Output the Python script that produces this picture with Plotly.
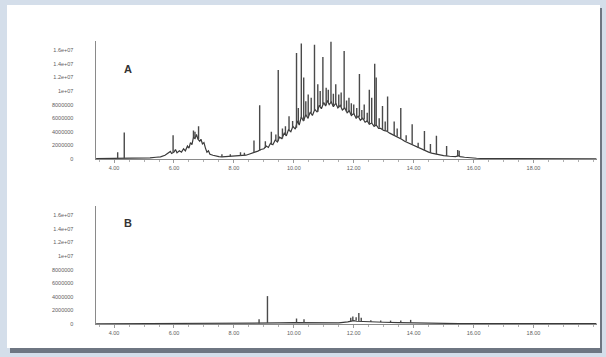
import numpy as np
import plotly.graph_objects as go

# ---------------- data (intensity in millions of counts) ----------------
a_base_time = [3.40, 3.80, 4.00, 4.10, 4.20, 4.30, 4.50, 4.80, 5.00, 5.20, 5.40, 5.55, 5.70, 5.80,
               5.88, 5.92, 6.00, 6.05, 6.10, 6.18, 6.25, 6.32, 6.38, 6.45, 6.50, 6.55, 6.60, 6.65,
               6.70, 6.75, 6.80, 6.86, 6.90, 6.95, 7.00, 7.05, 7.10, 7.15, 7.20, 7.30, 7.40, 7.50,
               7.60, 7.75, 7.90, 8.00, 8.10, 8.20, 8.30, 8.40, 8.50, 8.60, 8.70, 8.80, 8.90, 9.00,
               9.08, 9.15, 9.22, 9.30, 9.38, 9.45, 9.52, 9.60, 9.68, 9.75, 9.82, 9.90, 9.97, 10.05,
               10.12, 10.18, 10.25, 10.32, 10.40, 10.47, 10.55, 10.62, 10.70, 10.78, 10.85, 10.92,
               11.00, 11.06, 11.12, 11.18, 11.25, 11.32, 11.40, 11.47, 11.55, 11.62, 11.70, 11.78,
               11.85, 11.92, 12.00, 12.08, 12.15, 12.22, 12.30, 12.38, 12.45, 12.52, 12.60, 12.68,
               12.75, 12.83, 12.90, 13.00, 13.10, 13.20, 13.30, 13.40, 13.50, 13.60, 13.70, 13.80,
               13.90, 14.00, 14.10, 14.20, 14.30, 14.40, 14.50, 14.60, 14.70, 14.80, 14.90, 15.00,
               15.20, 15.40, 15.50, 15.55, 15.70, 15.90, 16.10, 16.40, 17.00, 18.00, 20.10]
a_base_tic_m = [0.05, 0.06, 0.08, 0.10, 0.12, 0.10, 0.08, 0.07, 0.10, 0.15, 0.25, 0.30, 0.55, 0.90,
                1.10, 0.80, 1.00, 1.40, 0.90, 1.20, 1.00, 1.50, 1.20, 1.90, 1.60, 2.40, 2.10, 3.20,
                3.00, 3.60, 2.90, 2.60, 2.90, 2.20, 2.40, 1.60, 1.00, 1.20, 0.70, 0.55, 0.40, 0.35,
                0.30, 0.35, 0.30, 0.35, 0.40, 0.45, 0.50, 0.55, 0.70, 0.80, 1.00, 1.15, 1.40, 1.50,
                1.90, 1.70, 2.30, 2.10, 2.80, 2.50, 3.20, 3.00, 3.80, 3.40, 4.30, 4.00, 4.80, 4.40,
                5.60, 5.00, 6.20, 5.60, 6.50, 6.00, 6.90, 6.40, 7.30, 6.90, 7.90, 7.40,
                8.30, 7.80, 8.60, 8.00, 8.40, 7.70, 8.20, 7.50, 7.90, 7.20, 7.50, 6.80,
                7.10, 6.40, 6.70, 6.00, 6.30, 5.70, 6.00, 5.40, 5.60, 5.10, 5.30, 4.80,
                5.00, 4.50, 4.50, 4.20, 4.10, 3.80, 3.60, 3.40, 3.10, 2.90, 2.60, 2.40,
                2.10, 1.90, 1.70, 1.50, 1.30, 1.15, 1.00, 0.85, 0.75, 0.65, 0.55, 0.50,
                0.40, 0.35, 0.50, 0.35, 0.25, 0.15, 0.10, 0.06, 0.04, 0.03, 0.03]

a_peak_time = [4.12, 4.34, 5.97, 6.65, 6.70, 6.82, 7.60, 7.88, 8.22, 8.35, 8.67, 8.86, 9.05, 9.25,
               9.40, 9.48, 9.62, 9.72, 9.84, 9.96, 10.09, 10.15, 10.25, 10.33, 10.40, 10.48, 10.58,
               10.69, 10.80, 10.88, 10.97, 11.08, 11.15, 11.24, 11.32, 11.40, 11.50, 11.58, 11.68,
               11.76, 11.84, 11.92, 12.00, 12.10, 12.19, 12.27, 12.35, 12.45, 12.52, 12.60, 12.70,
               12.75, 12.85, 12.96, 13.05, 13.13, 13.35, 13.45, 13.57, 13.75, 13.95, 14.15, 14.36,
               14.56, 14.76, 15.10, 15.47, 15.52]
a_peak_base_m = [0.10, 0.10, 0.90, 3.20, 3.00, 2.90, 0.30, 0.30, 0.45, 0.50, 0.90, 1.20, 1.60, 2.10,
                 2.80, 2.60, 3.00, 3.60, 4.20, 4.60, 4.60, 5.30, 6.00, 5.60, 6.40, 6.00, 6.80,
                 7.20, 6.90, 7.80, 8.00, 7.90, 8.40, 8.30, 7.80, 8.10, 7.60, 7.70, 7.40,
                 6.90, 7.00, 6.50, 6.60, 6.10, 6.20, 5.80, 5.80, 5.50, 5.10, 5.30, 4.90,
                 5.00, 4.60, 4.40, 4.20, 4.10, 3.50, 3.30, 3.00, 2.60, 2.10, 1.60, 1.25,
                 0.90, 0.70, 0.45, 0.40, 0.40]
a_peak_top_m = [1.0, 3.9, 3.5, 4.2, 4.0, 4.8, 0.7, 0.7, 1.0, 0.9, 2.7, 7.9, 2.6, 4.0,
                3.6, 13.1, 4.5, 4.8, 6.3, 5.6, 15.6, 7.5, 17.0, 12.0, 8.5, 9.5, 9.0,
                16.8, 11.0, 10.0, 15.0, 10.5, 10.2, 17.3, 9.6, 11.0, 9.5, 9.8, 15.9,
                8.6, 9.0, 8.2, 8.0, 7.5, 12.5, 7.2, 8.0, 6.8, 10.2, 9.0, 14.0,
                12.0, 6.0, 7.8, 5.5, 9.2, 5.5, 4.5, 7.5, 3.5, 5.1, 2.4, 4.1,
                2.2, 3.4, 1.9, 1.3, 1.2]

b_base_time = [3.40, 8.50, 8.80, 9.00, 9.50, 10.00, 10.50, 11.00, 11.50, 11.80, 12.00, 12.10,
               12.30, 12.50, 13.00, 13.50, 14.00, 14.50, 15.50, 20.10]
b_base_tic_m = [0.03, 0.04, 0.10, 0.15, 0.15, 0.20, 0.15, 0.12, 0.15, 0.30, 0.50, 0.40,
                0.35, 0.30, 0.25, 0.20, 0.15, 0.08, 0.05, 0.04]

b_peak_time = [8.84, 9.12, 10.09, 10.34, 11.90, 11.97, 12.08, 12.17, 12.25, 12.57, 12.90, 13.23,
               13.57, 13.90]
b_peak_base_m = [0.08, 0.15, 0.20, 0.18, 0.40, 0.45, 0.50, 0.45, 0.40, 0.30, 0.27, 0.22, 0.20, 0.16]
b_peak_top_m = [0.7, 4.1, 0.8, 0.7, 0.9, 1.1, 1.0, 1.6, 0.9, 0.55, 0.5, 0.5, 0.5, 0.6]

x_tick_vals = [4, 6, 8, 10, 12, 14, 16, 18]
x_tick_text = ["4.00", "6.00", "8.00", "10.00", "12.00", "14.00", "16.00", "18.00"]
y_tick_vals = [0, 2e6, 4e6, 6e6, 8e6, 1e7, 1.2e7, 1.4e7, 1.6e7]
y_tick_text = ["0", "2000000", "4000000", "6000000", "8000000", "1e+07", "1.2e+07", "1.4e+07", "1.6e+07"]
panel_labels = ["A", "B"]

M = 1e6
LINE = "#3a3a3a"


def spikes(times, base, top):
    xs, ys = [], []
    for t, b, p in zip(times, base, top):
        xs += [t, t, None]
        ys += [b * M, p * M, None]
    return xs, ys


fig = go.Figure()

panels = [
    (a_base_time, a_base_tic_m, a_peak_time, a_peak_base_m, a_peak_top_m, "x", "y"),
    (b_base_time, b_base_tic_m, b_peak_time, b_peak_base_m, b_peak_top_m, "x2", "y2"),
]
for bt, by, pt, pb, ptop, xa, ya in panels:
    fig.add_trace(go.Scatter(x=bt, y=np.array(by) * M, mode="lines", xaxis=xa, yaxis=ya,
                             line=dict(color=LINE, width=1.2), showlegend=False, hoverinfo="skip"))
    sx, sy = spikes(pt, pb, ptop)
    fig.add_trace(go.Scatter(x=sx, y=sy, mode="lines", xaxis=xa, yaxis=ya,
                             line=dict(color="#4a4a4a", width=1.4), showlegend=False, hoverinfo="skip"))

W, H = 606, 357
x_dom = [95.5 / W, 597 / W]
ya_dom = [1 - 160.3 / H, 1 - 41.8 / H]
yb_dom = [1 - 326.7 / H, 1 - 208.2 / H]

tickfont = dict(family="Liberation Sans, Arial, sans-serif", size=5.5, color="#5e5e5e")

xaxis_common = dict(range=[3.38, 20.12], tickvals=x_tick_vals, ticktext=x_tick_text,
                    showgrid=False, zeroline=False, showline=True, linecolor="#8a8a8a",
                    linewidth=1, ticks="outside", ticklen=3, tickcolor="#9a9a9a",
                    minor=dict(ticks="outside", ticklen=2, dtick=0.5, tickcolor="#b0b0b0"),
                    tickfont=tickfont, domain=x_dom)
yaxis_common = dict(range=[0, 17.3e6], tickvals=y_tick_vals, ticktext=y_tick_text,
                    showgrid=False, zeroline=False, showline=True, linecolor="#8a8a8a",
                    linewidth=1, ticks="", tickfont=tickfont, ticklabelstandoff=20)

fig.update_layout(
    width=W, height=H,
    margin=dict(l=0, r=0, t=0, b=0),
    paper_bgcolor="#d4deea",
    plot_bgcolor="rgba(0,0,0,0)",
    xaxis=dict(xaxis_common, anchor="y"),
    yaxis=dict(yaxis_common, domain=ya_dom, anchor="x"),
    xaxis2=dict(xaxis_common, anchor="y2"),
    yaxis2=dict(yaxis_common, domain=yb_dom, anchor="x2"),
    shapes=[
        dict(type="rect", xref="paper", yref="paper", x0=10 / W, x1=602 / W,
             y0=1 - 356 / H, y1=1 - 8 / H, fillcolor="#6e7682", line=dict(width=0), layer="below"),
        dict(type="rect", xref="paper", yref="paper", x0=7 / W, x1=600 / W,
             y0=1 - 351 / H, y1=1 - 5 / H, fillcolor="white", line=dict(width=0), layer="below"),
    ],
    annotations=[
        dict(text="<b>%s</b>" % panel_labels[0], xref="paper", yref="paper", x=122 / W, y=1 - 62 / H,
             showarrow=False, font=dict(family="Liberation Sans, Arial, sans-serif", size=11, color="#333")),
        dict(text="<b>%s</b>" % panel_labels[1], xref="paper", yref="paper", x=122 / W, y=1 - 225 / H,
             showarrow=False, font=dict(family="Liberation Sans, Arial, sans-serif", size=11, color="#333")),
    ],
)

fig.write_html("out.html", config={"displayModeBar": False},
               post_script="document.body.style.margin='0';document.body.style.padding='0';")
